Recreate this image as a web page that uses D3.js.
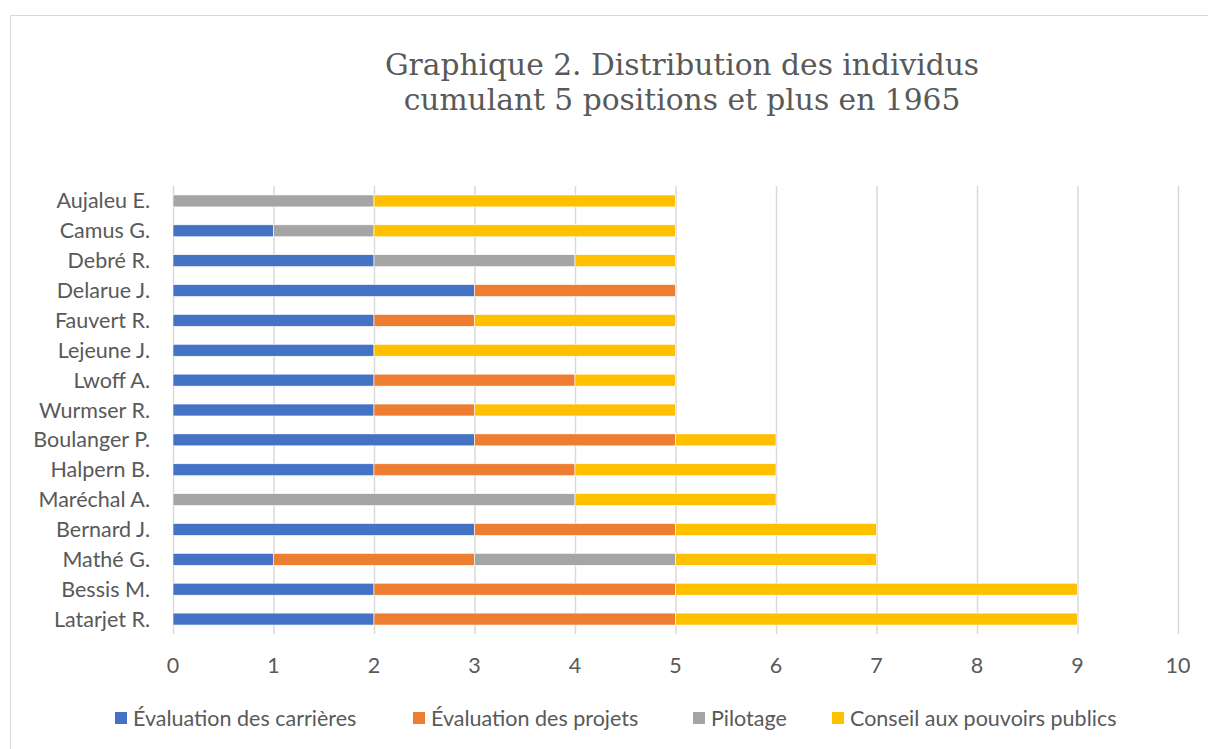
<!DOCTYPE html>
<html>
<head>
<meta charset="utf-8">
<script src="https://cdn.jsdelivr.net/npm/d3@7"></script>
<style>
  body { margin: 0; background: #fff; }
  svg text { fill: #595959; }
</style>
</head>
<body>
<svg id="chart" width="1208" height="749"></svg>
<script>
// noms, du haut vers le bas
const names = ["Aujaleu E.", "Camus G.", "Debré R.", "Delarue J.", "Fauvert R.", "Lejeune J.",
  "Lwoff A.", "Wurmser R.", "Boulanger P.", "Halpern B.", "Maréchal A.", "Bernard J.",
  "Mathé G.", "Bessis M.", "Latarjet R."]
const seriesNames = ["Évaluation des carrières", "Évaluation des projets", "Pilotage", "Conseil aux pouvoirs publics"]
const carrieres = [0, 1, 2, 3, 2, 2, 2, 2, 3, 2, 0, 3, 1, 2, 2]
const projets   = [0, 0, 0, 2, 1, 0, 2, 1, 2, 2, 0, 2, 2, 3, 3]
const pilotage  = [2, 1, 2, 0, 0, 0, 0, 0, 0, 0, 4, 0, 2, 0, 0]
const conseil   = [3, 3, 1, 0, 2, 3, 1, 2, 1, 2, 2, 2, 2, 4, 4]
const xTicks = [0, 1, 2, 3, 4, 5, 6, 7, 8, 9, 10]
const colors = ["#4472c4", "#ed7d31", "#a5a5a5", "#ffc000"]

const svg = d3.select("#chart")
const font = "Lato, 'Open Sans', sans-serif"
const fontSize = "21.5px"

// cadre
svg.append("rect")
  .attr("x", 10.5).attr("y", 15.5)
  .attr("width", 1220).attr("height", 760)
  .attr("fill", "none").attr("stroke", "#d9d9d9")

// titre
const title = svg.append("text")
  .attr("x", 682).attr("y", 75)
  .attr("text-anchor", "middle")
  .style("font-family", "'DejaVu Serif', serif")
  .style("font-size", "29.7px")
title.append("tspan").attr("x", 682).attr("dy", 0).text("Graphique 2. Distribution des individus")
title.append("tspan").attr("x", 682).attr("dy", 35).text("cumulant 5 positions et plus en 1965")

const x = d3.scaleLinear().domain([0, 10]).range([173, 1178])
const y = d3.scaleBand().domain(names).range([186, 634]).paddingInner(0.6).paddingOuter(0.3)

// grille
svg.append("g").selectAll("line").data(xTicks).join("line")
  .attr("x1", d => x(d) + 0.5).attr("x2", d => x(d) + 0.5)
  .attr("y1", 186).attr("y2", 634)
  .attr("stroke", "#d9d9d9").attr("stroke-width", 1.5)

// empilement
const table = names.map((n, i) => ({
  name: n,
  [seriesNames[0]]: carrieres[i],
  [seriesNames[1]]: projets[i],
  [seriesNames[2]]: pilotage[i],
  [seriesNames[3]]: conseil[i]
}))
const stacked = d3.stack().keys(seriesNames)(table)

svg.append("g").selectAll("g").data(stacked).join("g")
  .attr("fill", (d, i) => colors[i])
  .selectAll("rect").data(d => d.filter(s => s[1] > s[0])).join("rect")
  .attr("x", d => x(d[0]))
  .attr("width", d => x(d[1]) - x(d[0]))
  .attr("y", d => y(d.data.name))
  .attr("height", y.bandwidth())
  .attr("stroke", "#fff").attr("stroke-width", 0.6)

// étiquettes des noms
svg.append("g").selectAll("text").data(names).join("text")
  .attr("x", 150)
  .attr("y", d => y(d) + y.bandwidth() / 2)
  .attr("dy", "0.35em")
  .attr("text-anchor", "end")
  .style("font-family", font).style("font-size", fontSize)
  .text(d => d)

// axe x
svg.append("g").selectAll("text").data(xTicks).join("text")
  .attr("x", d => x(d))
  .attr("y", 665).attr("dy", "0.35em")
  .attr("text-anchor", "middle")
  .style("font-family", font).style("font-size", fontSize)
  .text(d => d)

// légende
const legendX = [115, 413, 693, 832]
const legend = svg.append("g").selectAll("g").data(seriesNames).join("g")
  .attr("transform", (d, i) => `translate(${legendX[i]},718)`)
legend.append("rect")
  .attr("x", 0).attr("y", -6).attr("width", 12).attr("height", 12)
  .attr("fill", (d, i) => colors[i])
legend.append("text")
  .attr("x", 18).attr("dy", "0.35em")
  .style("font-family", font).style("font-size", fontSize)
  .text(d => d)
</script>
</body>
</html>
